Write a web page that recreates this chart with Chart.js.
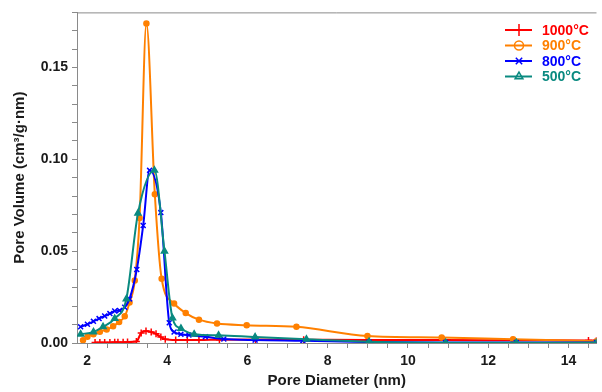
<!DOCTYPE html>
<html lang="en">
<head>
<meta charset="UTF-8">
<title>Pore size distribution</title>
<script src="https://cdn.jsdelivr.net/npm/chart.js@4.4.1/dist/chart.umd.min.js"></script>
<style>
  html, body { margin: 0; padding: 0; background: #fff; }
  #wrap { width: 602px; height: 392px; }
</style>
</head>
<body>
<div id="wrap"><canvas id="canvas"></canvas></div>
<script>
// series labels
var seriesNames = ['1000°C', '900°C', '800°C', '500°C'];

// 1000 °C
var x1000 = [2.20, 2.32, 2.44, 2.57, 2.69, 2.77, 2.90, 3.01, 3.23, 3.35, 3.47, 3.60, 3.72, 3.84, 3.95, 4.21, 4.50, 4.79, 5.30, 6.20, 7.40, 9.00, 10.90, 12.60, 14.50, 14.70];
var y1000 = [0.0003, 0.0003, 0.0003, 0.0003, 0.0004, 0.0004, 0.0004, 0.0005, 0.0008, 0.0055, 0.0065, 0.0060, 0.0050, 0.0032, 0.0020, 0.0016, 0.0016, 0.0016, 0.0018, 0.0019, 0.0018, 0.0016, 0.0016, 0.0015, 0.0014, 0.0014];

// 900 °C
var x900 = [1.90, 2.01, 2.16, 2.32, 2.49, 2.65, 2.80, 2.94, 3.06, 3.19, 3.31, 3.48, 3.69, 3.86, 4.17, 4.46, 4.79, 5.24, 5.98, 7.22, 8.99, 10.84, 12.62, 14.70];
var y900 = [0.0015, 0.0034, 0.0048, 0.0061, 0.0074, 0.0091, 0.0115, 0.0145, 0.022, 0.034, 0.068, 0.174, 0.081, 0.035, 0.0215, 0.0163, 0.0127, 0.0106, 0.0097, 0.0088, 0.0038, 0.0030, 0.0020, 0.0010];

// 800 °C
var x800 = [1.84, 2.01, 2.16, 2.30, 2.44, 2.57, 2.69, 2.81, 2.94, 3.06, 3.24, 3.40, 3.56, 3.84, 4.05, 4.17, 4.34, 4.54, 4.95, 5.41, 6.19, 7.38, 9.03, 10.94, 12.70, 14.70];
var y800 = [0.0088, 0.0102, 0.0118, 0.0133, 0.0147, 0.0160, 0.0174, 0.0177, 0.0195, 0.024, 0.040, 0.064, 0.094, 0.071, 0.0110, 0.0060, 0.0048, 0.0043, 0.0034, 0.0022, 0.0016, 0.0012, 0.0005, 0.0003, 0.0003, 0.0003];

// 500 °C
var x500 = [1.84, 2.16, 2.40, 2.69, 2.98, 3.27, 3.68, 3.93, 4.13, 4.34, 4.67, 5.28, 6.19, 7.47, 9.03, 10.94, 12.70, 14.70];
var y500 = [0.0048, 0.0060, 0.0088, 0.0133, 0.024, 0.0706, 0.094, 0.050, 0.0136, 0.0079, 0.0048, 0.0042, 0.0032, 0.0020, 0.0007, 0.0002, 0.0002, 0.0002];

var colors = ['#ff0000', '#ff8000', '#0000ff', '#0a8a80'];
var styles = ['cross', 'circle', 'crossRot', 'triangle'];

function zip(xs, ys) {
    var out = [];
    for (var i = 0; i < xs.length; i++) out.push({ x: xs[i], y: ys[i] });
    return out;
}

var allX = [x1000, x900, x800, x500];
var allY = [y1000, y900, y800, y500];

var datasets = [];
for (var i = 0; i < 4; i++) {
    datasets.push({
        label: seriesNames[i],
        data: zip(allX[i], allY[i]),
        borderColor: colors[i],
        backgroundColor: colors[i],
        pointBackgroundColor: colors[i],
        pointBorderColor: colors[i],
        pointStyle: styles[i],
        pointRadius: styles[i] == 'circle' ? 2.5 : 3.5,
        pointBorderWidth: 1.5,
        borderWidth: 2,
        cubicInterpolationMode: 'monotone',
        fill: false
    });
}
// draw 1000 last so it sits on top like the original
datasets.reverse();

var axisGray = '#8a8a8a';

// legend drawn by hand: line + marker + coloured text
var lineLegend = {
    id: 'lineLegend',
    afterDraw: function (chart) {
        var ctx = chart.ctx;
        var area = chart.chartArea;
        ctx.save();
        // top frame line
        ctx.strokeStyle = axisGray;
        ctx.lineWidth = 1;
        ctx.beginPath();
        ctx.moveTo(area.left, area.top + 0.5);
        ctx.lineTo(area.right, area.top + 0.5);
        ctx.stroke();

        var rowY = 30;
        for (var i = 0; i < 4; i++) {
            var y = rowY + i * 15.5;
            ctx.strokeStyle = colors[i];
            ctx.lineWidth = 2;
            ctx.beginPath();
            ctx.moveTo(505, y);
            ctx.lineTo(532, y);
            ctx.stroke();
            ctx.lineWidth = 1.5;
            ctx.fillStyle = 'rgba(0,0,0,0)';
            Chart.helpers.drawPoint(ctx, {
                pointStyle: styles[i],
                radius: styles[i] == 'cross' ? 6 : 4.5,
                rotation: 0,
                borderWidth: 1.5
            }, 519, y);
            ctx.fillStyle = colors[i];
            ctx.font = 'bold 14px "Liberation Sans", Arial, sans-serif';
            ctx.textBaseline = 'middle';
            ctx.textAlign = 'left';
            ctx.fillText(seriesNames[i], 542, y + 1);
        }
        ctx.restore();
    }
};

Chart.defaults.font.family = '"Liberation Sans", Arial, sans-serif';
Chart.defaults.font.weight = 'bold';
Chart.defaults.color = '#1a1a1a';

var ctx = document.getElementById('canvas').getContext('2d');
window.myChart = new Chart(ctx, {
    type: 'line',
    data: { datasets: datasets },
    options: {
        responsive: true,
        maintainAspectRatio: false,
        animation: false,
        layout: { padding: { left: 0, top: 8, right: 0, bottom: 0 } },
        plugins: {
            legend: { display: false },
            tooltip: { enabled: false }
        },
        scales: {
            x: {
                type: 'linear',
                min: 1.75,
                max: 14.7,
                afterFit: function (scale) { scale.height = 49; },
                border: { color: axisGray, width: 1 },
                grid: { drawOnChartArea: false, tickLength: 5, tickColor: axisGray },
                ticks: {
                    stepSize: 0.5,
                    includeBounds: false,
                    autoSkip: false,
                    maxRotation: 0,
                    padding: 5,
                    font: { size: 14, weight: 'bold' },
                    callback: function (v) { return v % 2 === 0 ? String(v) : ''; }
                },
                title: {
                    display: true,
                    text: 'Pore Diameter (nm)',
                    font: { size: 15, weight: 'bold' },
                    padding: { top: 0, bottom: 2 }
                }
            },
            y: {
                min: 0,
                max: 0.18,
                afterFit: function (scale) { scale.width = 77; },
                border: { color: axisGray, width: 1 },
                grid: { drawOnChartArea: false, tickLength: 5, tickColor: axisGray },
                ticks: {
                    stepSize: 0.01,
                    autoSkip: false,
                    padding: 4,
                    font: { size: 14, weight: 'bold' },
                    callback: function (v) {
                        return Math.round(v * 100) % 5 === 0 ? v.toFixed(2) : '';
                    }
                },
                title: {
                    display: true,
                    text: 'Pore Volume (cm³/g·nm)',
                    font: { size: 15, weight: 'bold' },
                    padding: { top: 11, bottom: 0 }
                }
            }
        }
    },
    plugins: [lineLegend]
});
</script>
</body>
</html>
